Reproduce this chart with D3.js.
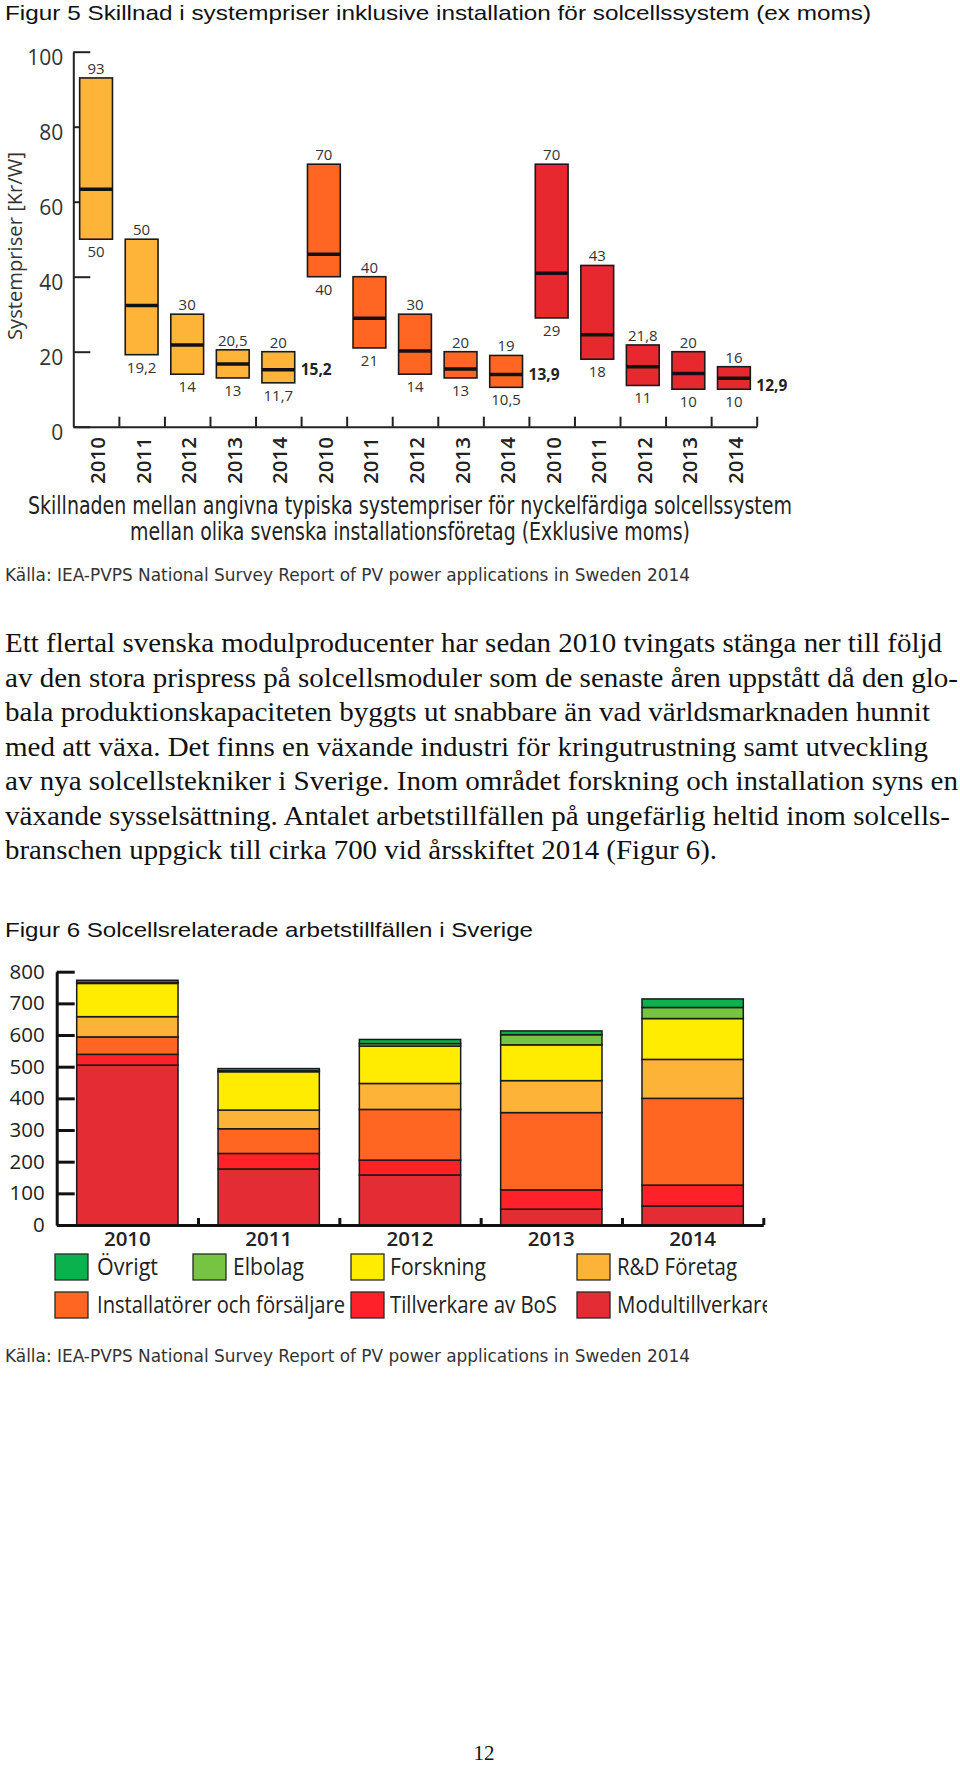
<!DOCTYPE html>
<html>
<head>
<meta charset="utf-8">
<script src="https://cdn.jsdelivr.net/npm/d3@7"></script>
<style>
  html, body { margin: 0; padding: 0; background: #fff; }
  svg { display: block; }
</style>
</head>
<body>
<script>
// ---------------- DATA ----------------
// Figur 5: system price ranges (Kr/W), three groups x five years
const priceYears = ["2010","2011","2012","2013","2014","2010","2011","2012","2013","2014","2010","2011","2012","2013","2014"];
const priceGroup = [0,0,0,0,0, 1,1,1,1,1, 2,2,2,2,2];
const priceMax    = [93, 50, 30, 20.5, 20,   70, 40, 30, 20, 19,    70, 43, 21.8, 20, 16];
const priceMin    = [50, 19.2, 14, 13, 11.7, 40, 21, 14, 13, 10.5,  29, 18, 11, 10, 10];
const priceMedian = [63.3, 32.3, 21.8, 16.7, 15.2, 46, 28.9, 20.2, 15.4, 13.9, 40.9, 24.5, 16, 14.2, 12.9];
const medianLabelShown = [4, 9, 14];
const priceTicks = [0, 20, 40, 60, 80, 100];
const groupColors = ["#FDB438", "#FF6624", "#E8282F"];

// Figur 6: jobs by category
const jobYears = ["2010","2011","2012","2013","2014"];
const modultillverkare = [505, 177, 158, 50, 60];
const tillverkareBoS   = [34, 49, 47, 61, 66];
const installatorer    = [55, 78, 160, 244, 274];
const rdForetag        = [64, 59, 82, 101, 123];
const forskning        = [105, 121, 118, 113, 129];
const elbolag          = [3, 3, 8, 32, 35];
const ovrigt           = [7, 7, 13, 12, 27];
const jobTicks = [0, 100, 200, 300, 400, 500, 600, 700, 800];
const seriesKeys   = ["Modultillverkare", "Tillverkare av BoS", "Installatörer och försäljare", "R&D Företag", "Forskning", "Elbolag", "Övrigt"];
const seriesColors = ["#E32C33", "#FF2129", "#FF6622", "#FCB338", "#FFEC00", "#77C443", "#0BB14C"];
const legendRow1 = ["Övrigt", "Elbolag", "Forskning", "R&D Företag"];
const legendRow2 = ["Installatörer och försäljare", "Tillverkare av BoS", "Modultillverkare"];

const paragraphLines = [
  "Ett flertal svenska modulproducenter har sedan 2010 tvingats stänga ner till följd",
  "av den stora prispress på solcellsmoduler som de senaste åren uppstått då den glo-",
  "bala produktionskapaciteten byggts ut snabbare än vad världsmarknaden hunnit",
  "med att växa. Det finns en växande industri för kringutrustning samt utveckling",
  "av nya solcellstekniker i Sverige. Inom området forskning och installation syns en",
  "växande sysselsättning. Antalet arbetstillfällen på ungefärlig heltid inom solcells-",
  "branschen uppgick till cirka 700 vid årsskiftet 2014 (Figur 6)."
];

// ---------------- DRAW ----------------
const W = 960, H = 1766;
const svg = d3.select("body").append("svg").attr("width", W).attr("height", H);
svg.append("rect").attr("width", W).attr("height", H).attr("fill", "#fff");

const sans = "'Liberation Sans', Arial, sans-serif";
const narrow = "'Liberation Sans Narrow', 'DejaVu Sans Condensed', 'Liberation Sans', sans-serif";
const myriad = "'Open Sans', 'Noto Sans', sans-serif";
const serif = "'Liberation Serif', 'Times New Roman', serif";
const fmt = v => String(v).replace(".", ",");

// Titles
svg.append("text").attr("x", 5).attr("y", 20).attr("font-family", sans).attr("font-size", 21)
  .attr("fill", "#111").attr("textLength", 866).attr("lengthAdjust", "spacingAndGlyphs")
  .text("Figur 5 Skillnad i systempriser inklusive installation för solcellssystem (ex moms)");

// ---- Chart 1 ----
const x1 = d3.scaleBand().domain(d3.range(priceYears.length)).range([73.3, 756.7]).paddingInner(0).paddingOuter(0);
const y1 = d3.scaleLinear().domain([0, 100]).range([426.7, 51.7]);
const g1 = svg.append("g");
const bw1 = x1.bandwidth() * 0.72;

// y axis
const yAx1 = g1.append("g").attr("transform", "translate(73.3,0)")
  .call(d3.axisLeft(y1).tickValues(priceTicks).tickSize(-17).tickSizeOuter(0).tickPadding(10));
yAx1.selectAll("path, line").attr("stroke", "#222").attr("stroke-width", 2);
yAx1.selectAll("text").attr("font-family", myriad).attr("font-size", 21).attr("fill", "#333").attr("dy", "0.6em");

// x axis with boundary ticks
const xb1 = d3.scaleLinear().domain([0, priceYears.length]).range(x1.range());
const xAx1 = g1.append("g").attr("transform", `translate(0,${y1(0)})`)
  .call(d3.axisBottom(xb1).tickValues(d3.range(1, priceYears.length + 1)).tickSize(-10).tickSizeOuter(0).tickFormat(""));
xAx1.selectAll("path, line").attr("stroke", "#222").attr("stroke-width", 2);

// bars
const idx = d3.range(priceYears.length);
g1.selectAll("rect.pbar").data(idx).join("rect").attr("class", "pbar")
  .attr("x", i => x1(i) + (x1.bandwidth() - bw1) / 2)
  .attr("y", i => y1(priceMax[i]))
  .attr("width", bw1)
  .attr("height", i => y1(priceMin[i]) - y1(priceMax[i]))
  .attr("fill", i => groupColors[priceGroup[i]])
  .attr("stroke", "#1a1a1a").attr("stroke-width", 1.6);

g1.selectAll("line.med").data(idx).join("line").attr("class", "med")
  .attr("x1", i => x1(i) + (x1.bandwidth() - bw1) / 2)
  .attr("x2", i => x1(i) + (x1.bandwidth() + bw1) / 2)
  .attr("y1", i => y1(priceMedian[i])).attr("y2", i => y1(priceMedian[i]))
  .attr("stroke", "#111").attr("stroke-width", 3.5);

g1.selectAll("text.maxl").data(idx).join("text").attr("class", "maxl")
  .attr("x", i => x1(i) + x1.bandwidth() / 2).attr("y", i => y1(priceMax[i]) - 4)
  .attr("text-anchor", "middle").attr("font-family", myriad).attr("font-size", 15).attr("fill", "#333")
  .text(i => fmt(priceMax[i]));
g1.selectAll("text.minl").data(idx).join("text").attr("class", "minl")
  .attr("x", i => x1(i) + x1.bandwidth() / 2).attr("y", i => y1(priceMin[i]) + 18)
  .attr("text-anchor", "middle").attr("font-family", myriad).attr("font-size", 15).attr("fill", "#333")
  .text(i => fmt(priceMin[i]));
g1.selectAll("text.medl").data(medianLabelShown).join("text").attr("class", "medl")
  .attr("x", i => x1(i) + (x1.bandwidth() + bw1) / 2 + 6)
  .attr("y", (i, k) => y1(priceMedian[i]) + 5 + (k === 2 ? 8 : 0))
  .attr("font-family", myriad).attr("font-weight", 700).attr("font-size", 15.5).attr("fill", "#222")
  .text(i => fmt(priceMedian[i]));

// rotated year labels
g1.selectAll("text.yr").data(idx).join("text").attr("class", "yr")
  .attr("transform", i => `translate(${x1(i) + x1.bandwidth() / 2 + 2},437) rotate(-90)`)
  .attr("text-anchor", "end").attr("dy", "0.35em")
  .attr("font-family", myriad).attr("font-weight", 600).attr("font-size", 20).attr("fill", "#222")
  .attr("textLength", 47).attr("lengthAdjust", "spacingAndGlyphs")
  .text(i => priceYears[i]);

// y title
g1.append("text").attr("transform", "translate(22,246) rotate(-90)").attr("text-anchor", "middle")
  .attr("font-family", myriad).attr("font-size", 20).attr("fill", "#333")
  .attr("textLength", 188).attr("lengthAdjust", "spacingAndGlyphs")
  .text("Systempriser [Kr/W]");

// caption
g1.append("text").attr("x", 410).attr("y", 514).attr("text-anchor", "middle")
  .attr("font-family", narrow).attr("font-size", 24).attr("fill", "#222")
  .attr("textLength", 764).attr("lengthAdjust", "spacingAndGlyphs")
  .text("Skillnaden mellan angivna typiska systempriser för nyckelfärdiga solcellssystem");
g1.append("text").attr("x", 410).attr("y", 540).attr("text-anchor", "middle")
  .attr("font-family", narrow).attr("font-size", 24).attr("fill", "#222")
  .attr("textLength", 560).attr("lengthAdjust", "spacingAndGlyphs")
  .text("mellan olika svenska installationsföretag (Exklusive moms)");

// source 1
svg.append("text").attr("x", 5).attr("y", 581).attr("font-family", narrow).attr("font-size", 18)
  .attr("fill", "#333").attr("textLength", 685).attr("lengthAdjust", "spacingAndGlyphs")
  .text("Källa: IEA-PVPS National Survey Report of PV power applications in Sweden 2014");

// paragraph
const paraBase = [652, 686.5, 721, 755.5, 790, 824.5, 859];
const paraEnd = [942, 958, 930, 928, 958, 950, 717];
svg.selectAll("text.para").data(paragraphLines).join("text").attr("class", "para")
  .attr("x", 5).attr("y", (d, i) => paraBase[i])
  .attr("font-family", serif).attr("font-size", 27).attr("fill", "#111")
  .attr("textLength", (d, i) => paraEnd[i] - 5).attr("lengthAdjust", "spacingAndGlyphs")
  .text(d => d);

// ---- Chart 2 ----
svg.append("text").attr("x", 5).attr("y", 936.5).attr("font-family", sans).attr("font-size", 21)
  .attr("fill", "#111").attr("textLength", 528).attr("lengthAdjust", "spacingAndGlyphs")
  .text("Figur 6 Solcellsrelaterade arbetstillfällen i Sverige");

const x2 = d3.scaleBand().domain(jobYears).range([56.7, 763.3]).paddingInner(0).paddingOuter(0);
const y2 = d3.scaleLinear().domain([0, 800]).range([1225, 971.7]);
const bw2 = x2.bandwidth() * 0.717;
const seriesArrays = [modultillverkare, tillverkareBoS, installatorer, rdForetag, forskning, elbolag, ovrigt];
const table = jobYears.map((yr, j) => {
  const row = { year: yr };
  seriesKeys.forEach((k, s) => row[k] = seriesArrays[s][j]);
  return row;
});
const stacked = d3.stack().keys(seriesKeys)(table);
const color2 = d3.scaleOrdinal().domain(seriesKeys).range(seriesColors);
const g2 = svg.append("g");

g2.selectAll("g.layer").data(stacked).join("g").attr("class", "layer")
  .attr("fill", d => color2(d.key))
  .selectAll("rect").data(d => d).join("rect")
  .attr("x", d => x2(d.data.year) + (x2.bandwidth() - bw2) / 2)
  .attr("y", d => y2(d[1]))
  .attr("width", bw2)
  .attr("height", d => y2(d[0]) - y2(d[1]))
  .attr("stroke", "#1a1a1a").attr("stroke-width", 1.5);

const yAx2 = g2.append("g").attr("transform", "translate(56.7,0)")
  .call(d3.axisLeft(y2).tickValues(jobTicks).tickSize(-18).tickSizeOuter(0).tickPadding(12));
yAx2.selectAll("path, line").attr("stroke", "#111").attr("stroke-width", 3);
yAx2.selectAll("text").attr("font-family", myriad).attr("font-size", 20.5).attr("fill", "#222");

const xb2 = d3.scaleLinear().domain([0, jobYears.length]).range(x2.range());
const xAx2 = g2.append("g").attr("transform", `translate(0,${y2(0)})`)
  .call(d3.axisBottom(xb2).tickValues(d3.range(1, jobYears.length + 1)).tickSize(-7).tickSizeOuter(0).tickFormat(""));
xAx2.selectAll("path, line").attr("stroke", "#111").attr("stroke-width", 3);

g2.selectAll("text.yr2").data(jobYears).join("text").attr("class", "yr2")
  .attr("x", d => x2(d) + x2.bandwidth() / 2).attr("y", 1246)
  .attr("text-anchor", "middle").attr("font-family", myriad).attr("font-weight", 600).attr("font-size", 20.5)
  .attr("fill", "#222").text(d => d);

// legend
const legendItems = [
  { key: legendRow1[0], sx: 55, tx: 97, ty: 1254, tl: 61 },
  { key: legendRow1[1], sx: 193, tx: 233, ty: 1254, tl: 71 },
  { key: legendRow1[2], sx: 351, tx: 390, ty: 1254, tl: 96 },
  { key: legendRow1[3], sx: 577, tx: 617, ty: 1254, tl: 120 },
  { key: legendRow2[0], sx: 55, tx: 97, ty: 1292, tl: 248 },
  { key: legendRow2[1], sx: 351, tx: 390, ty: 1292, tl: 167 },
  { key: legendRow2[2], sx: 577, tx: 617, ty: 1292, tl: 156 }
];
svg.append("clipPath").attr("id", "legclip").append("rect").attr("x", 0).attr("y", 1240).attr("width", 767).attr("height", 100);
const lg = svg.append("g").attr("clip-path", "url(#legclip)");
lg.selectAll("rect").data(legendItems).join("rect")
  .attr("x", d => d.sx).attr("y", d => d.ty).attr("width", 33).attr("height", 26)
  .attr("fill", d => color2(d.key)).attr("stroke", "#2a2a2a").attr("stroke-width", 1.3);
lg.selectAll("text").data(legendItems).join("text")
  .attr("x", d => d.tx).attr("y", d => d.ty + 21)
  .attr("font-family", myriad).attr("font-size", 23).attr("fill", "#222")
  .attr("textLength", d => d.tl).attr("lengthAdjust", "spacingAndGlyphs")
  .text(d => d.key);

// source 2
svg.append("text").attr("x", 5).attr("y", 1362).attr("font-family", narrow).attr("font-size", 18)
  .attr("fill", "#333").attr("textLength", 685).attr("lengthAdjust", "spacingAndGlyphs")
  .text("Källa: IEA-PVPS National Survey Report of PV power applications in Sweden 2014");

// page number
svg.append("text").attr("x", 484).attr("y", 1760).attr("text-anchor", "middle")
  .attr("font-family", serif).attr("font-size", 21).attr("fill", "#111").text("12");
</script>
</body>
</html>
